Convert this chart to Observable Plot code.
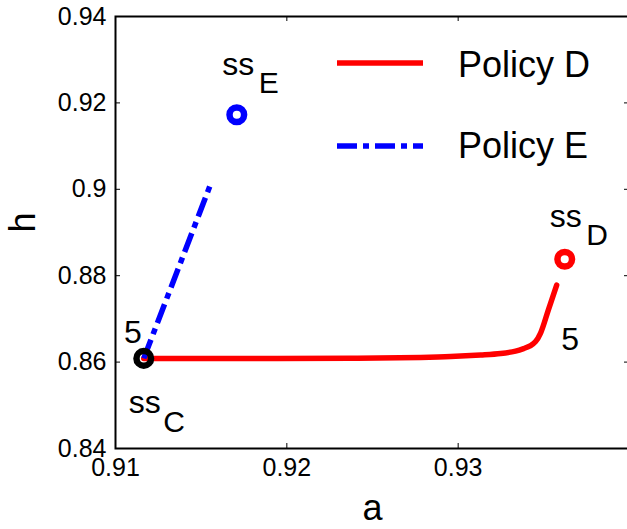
<!DOCTYPE html>
<html><head><meta charset="utf-8">
<script src="https://cdn.jsdelivr.net/npm/d3@7"></script>
<script src="https://cdn.jsdelivr.net/npm/@observablehq/plot@0.6"></script>
<style>
body{margin:0;background:#fff;font-family:"Liberation Sans",Arial,sans-serif;}
#wrap{position:relative;width:627px;height:529px;overflow:hidden;background:#fff;}
#legend{position:absolute;left:0;top:0;pointer-events:none;}
</style></head><body><div id="wrap"></div>
<script>
// ---- data ----
const xTicks = [0.91, 0.92, 0.93];
const xTickLabels = ["0.91", "0.92", "0.93"];
const yTicks = [0.84, 0.86, 0.88, 0.90, 0.92, 0.94];
const yTickLabels = ["0.84", "0.86", "0.88", "0.9", "0.92", "0.94"];

const policyD_a = [0.91165, 0.91788, 0.92372, 0.92781, 0.92956, 0.93131, 0.93248, 0.93335, 0.93382, 0.93423, 0.93452, 0.93481, 0.93528, 0.93575];
const policyD_h = [0.86086, 0.86083, 0.86088, 0.86109, 0.86127, 0.86162, 0.86197, 0.86255, 0.86313, 0.86382, 0.86475, 0.86672, 0.87228, 0.87784];
const policyE_a = [0.91165, 0.91561];
const policyE_h = [0.86086, 0.90178];

const seriesNames = ["Policy D", "Policy E"];
const ssNames = ["C", "E", "D"];
const ss_a = [0.91165, 0.91708, 0.93622];
const ss_h = [0.86086, 0.91724, 0.8838];
const periodLabel = "5";
const xLabel = "a";
const yLabel = "h";

// ---- styles / layout ----
const FONT = '"Liberation Sans", Arial, Helvetica, sans-serif';
const ssColor = {C: "black", E: "blue", D: "red"};
const ssOffsets = {
  C: {dx: 1, dy: 44.5, sdx: 19.5, sdy: 64},
  E: {dx: 1.5, dy: -50, sdx: 22, sdy: -31.5},
  D: {dx: 1, dy: -42.5, sdx: 21.5, sdy: -24}
};
const dashE = "20,6,6,6";

const W = 627, H = 529;
const mL = 115, mR = -2, mT = 16, mB = 81;
const frameW = W - mL - mR, frameH = H - mT - mB;
const tick = 5;

const idxD = policyD_a.map((_, i) => i);
const idxE = policyE_a.map((_, i) => i);

const ssMarks = ssNames.flatMap((n, i) => {
  const o = ssOffsets[n];
  const pt = [i];
  return [
    Plot.dot(pt, {x: j => ss_a[j], y: j => ss_h[j], r: 7.3, stroke: ssColor[n], strokeWidth: 6.5, fill: "none"}),
    Plot.text(pt, {x: j => ss_a[j], y: j => ss_h[j], text: () => "ss", dx: o.dx, dy: o.dy, fontSize: 32, textAnchor: "middle", fill: "black"}),
    Plot.text(pt, {x: j => ss_a[j], y: j => ss_h[j], text: j => ssNames[j], dx: o.sdx, dy: o.sdy, fontSize: 30, textAnchor: "start", fill: "black"})
  ];
});

const chart = Plot.plot({
  width: W, height: H,
  marginLeft: mL, marginRight: mR, marginTop: mT, marginBottom: mB,
  style: {fontFamily: FONT, background: "white", color: "black"},
  x: {domain: [0.91, 0.94]},
  y: {domain: [0.84, 0.94]},
  marks: [
    // inward ticks on all four sides
    Plot.tickX(xTicks, {x: d => d, insetTop: frameH - tick, stroke: "black", strokeWidth: 1}),
    Plot.tickX(xTicks, {x: d => d, insetBottom: frameH - tick, stroke: "black", strokeWidth: 1}),
    Plot.tickY(yTicks, {y: d => d, insetRight: frameW - tick, stroke: "black", strokeWidth: 1}),
    Plot.tickY(yTicks, {y: d => d, insetLeft: frameW - tick, stroke: "black", strokeWidth: 1}),
    Plot.axisX(xTicks, {anchor: "bottom", tickSize: 0, tickPadding: 10, fontSize: 25, label: null, tickFormat: d => xTickLabels[xTicks.indexOf(d)]}),
    Plot.axisY(yTicks, {anchor: "left", tickSize: 0, tickPadding: 9, fontSize: 25, label: null, tickFormat: d => yTickLabels[yTicks.indexOf(d)]}),
    Plot.text([xLabel], {frameAnchor: "bottom", text: d => d, dy: 71, fontSize: 36, fill: "black"}),
    Plot.text([yLabel], {frameAnchor: "left", text: d => d, dx: -92, rotate: -90, fontSize: 36, fill: "black"}),
    Plot.line(idxD, {x: i => policyD_a[i], y: i => policyD_h[i], stroke: "red", strokeWidth: 5.5, curve: "catmull-rom"}),
    Plot.line(idxE, {x: i => policyE_a[i], y: i => policyE_h[i], stroke: "blue", strokeWidth: 5.5, strokeDasharray: dashE, strokeLinecap: "butt"}),
    Plot.text([0], {x: () => ss_a[0], y: () => ss_h[0], text: () => periodLabel, dx: -11, dy: -26, fontSize: 32, fill: "black"}),
    Plot.text([policyD_a.length - 1], {x: i => policyD_a[i], y: i => policyD_h[i], text: () => periodLabel, dx: 13.5, dy: 55, fontSize: 32, fill: "black"}),
    ...ssMarks,
    Plot.frame({stroke: "black", strokeWidth: 2})
  ]
});

const wrap = document.getElementById("wrap");
wrap.appendChild(chart);

// legend (overlay, drawn from the series names)
const ns = "http://www.w3.org/2000/svg";
const leg = document.createElementNS(ns, "svg");
leg.setAttribute("id", "legend");
leg.setAttribute("width", W); leg.setAttribute("height", H);
const legendStyles = [
  {stroke: "red", dash: null, y: 63, ty: 77},
  {stroke: "blue", dash: dashE, y: 146, ty: 158}
];
seriesNames.forEach((name, i) => {
  const s = legendStyles[i];
  const ln = document.createElementNS(ns, "line");
  ln.setAttribute("x1", 337); ln.setAttribute("x2", 423);
  ln.setAttribute("y1", s.y); ln.setAttribute("y2", s.y);
  ln.setAttribute("stroke", s.stroke); ln.setAttribute("stroke-width", 5.5);
  if (s.dash) ln.setAttribute("stroke-dasharray", s.dash);
  leg.appendChild(ln);
  const tx = document.createElementNS(ns, "text");
  tx.setAttribute("x", 458); tx.setAttribute("y", s.ty);
  tx.setAttribute("font-size", 36); tx.setAttribute("font-family", FONT);
  tx.textContent = name;
  leg.appendChild(tx);
});
wrap.appendChild(leg);
</script></body></html>
